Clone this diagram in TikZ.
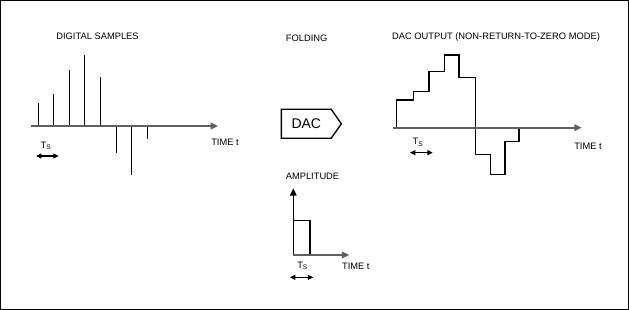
\documentclass[tikz,border=0pt]{standalone}
\usepackage{fontspec}
\setmainfont{Liberation Sans}
\usetikzlibrary{arrows.meta,positioning,calc,shapes.symbols}
\newcommand{\klein}{\fontsize{7}{8}\selectfont}
\tikzset{
  lbl/.style={font=\klein, inner sep=1pt},
  achse/.style={draw=gray!75!black, line width=1.3pt, -{Triangle[length=5.5pt,width=5pt]}},
  probe/.style={draw=black, line width=0.8pt},
  treppe/.style={draw=black, line width=0.8pt},
  periode/.style={draw=black, line width=0.8pt, {Triangle[length=4pt,width=3.8pt]}-{Triangle[length=4pt,width=3.8pt]}},
  dacbox/.style={signal, signal to=east, signal pointer angle=110, draw=black, line width=1pt,
    minimum width=45pt, minimum height=21.75pt, inner sep=1pt, font=\fontsize{10.5}{12}\selectfont}
}
\newcommand{\Ts}{T\textsubscript{S}}

\begin{document}
\begin{tikzpicture}[x=0.75pt, y=-0.75pt]
\useasboundingbox (0,0) rectangle (629,310);
\draw[line width=1pt] (0.6,0.6) rectangle (628.2,309.2);

% titles
\node[lbl] (t-samples) at (97.5,36) {DIGITAL SAMPLES};
\node[lbl] (t-folding) at (306.7,38) {FOLDING};
\node[lbl] (t-output) at (496,37.5) {DAC OUTPUT (NON-RETURN-TO-ZERO MODE)};

% digital samples
\coordinate (s-start) at (31,126);
\coordinate (s-end) at (218,126);
\foreach \h [count=\i from 0] in {23,32,56,71,49,-27,-49,-13}
  \draw[probe] (38.3+15.55*\i,126) -- ++(0,-\h);
\draw[achse] (s-start) -- (s-end);
\node[lbl] (s-ts) at (46,146) {\Ts};
\coordinate (s-p1) at (36,156); \coordinate (s-p2) at (58.7,156);
\draw[periode] (s-p1) -- (s-p2);
\node[lbl] (s-time) at (225,142) {TIME t};

% DAC
\node[dacbox, anchor=west] (dac) at (280.7,123.8) {DAC};

% DAC output
\coordinate (o-start) at (392.7,127.7);
\coordinate (o-end) at (581.7,127.7);
\draw[treppe] (396.7,127.7) |- (413.3,100) |- (429,91.7) |- (444.3,71.7) |- (459,55)
  |- (475.3,77.3) |- (490.7,154.3) |- (505,174.3) |- (519,141.7) -- (519,127.7);
\draw[achse] (o-start) -- (o-end);
\node[lbl] (o-ts) at (418,142.3) {\Ts};
\coordinate (o-p1) at (410,152.7); \coordinate (o-p2) at (432.7,152.7);
\draw[periode] (o-p1) -- (o-p2);
\node[lbl] (o-time) at (588,146.7) {TIME t};

% folding pulse
\node[lbl] (f-amp) at (312.5,176.7) {AMPLITUDE};
\coordinate (f-origin) at (293.3,255);
\coordinate (f-top) at (293.3,188.3);
\coordinate (f-right) at (349.3,255);
\draw[treppe] (f-origin) rectangle (310,220.7);
\draw[achse, draw=black, line width=0.8pt] (f-origin) -- (f-top);
\draw[achse] (f-origin) -- (f-right);
\node[lbl] (f-ts) at (302.7,266) {\Ts};
\coordinate (f-p1) at (290,277.3); \coordinate (f-p2) at (313.3,277.3);
\draw[periode] (f-p1) -- (f-p2);
\node[lbl] (f-time) at (355.8,266) {TIME t};
\end{tikzpicture}
\end{document}
